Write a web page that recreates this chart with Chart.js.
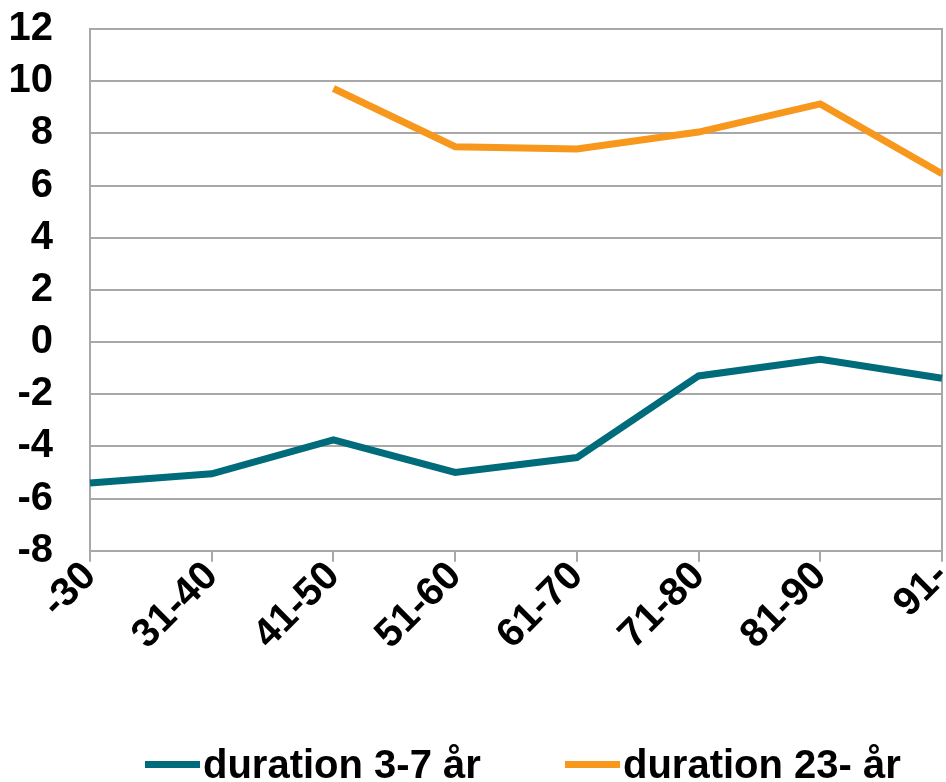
<!DOCTYPE html>
<html>
<head>
<meta charset="utf-8">
<script src="https://cdn.jsdelivr.net/npm/chart.js@4.4.1/dist/chart.umd.min.js"></script>
<style>
  html, body { margin: 0; padding: 0; background: #ffffff; }
  #wrap { position: relative; width: 946px; height: 782px; overflow: hidden; }
  #chart { position: absolute; left: 0; top: 0; }
  #legend { position: absolute; left: 0; top: 0; width: 946px; height: 782px; pointer-events: none;
            font-family: "Liberation Sans", Arial, sans-serif; font-weight: bold; font-size: 40px; color: #000; }
  .item { position: absolute; top: 740px; display: flex; align-items: center; white-space: nowrap; line-height: 48px; }
  .swatch { display: inline-block; width: 55px; height: 7px; margin-right: 3px; }
</style>
</head>
<body>
<div id="wrap">
  <canvas id="chart" width="946" height="782"></canvas>
  <div id="legend"></div>
</div>
<script>
// Age groups along the x axis
const ageGroups = ['-30', '31-40', '41-50', '51-60', '61-70', '71-80', '81-90', '91-'];

// Series values per age group (null = no value)
const duration3to7 = [-5.4, -5.05, -3.75, -5.0, -4.43, -1.3, -0.66, -1.39];
const duration23plus = [null, null, 9.72, 7.49, 7.4, 8.05, 9.13, 6.45];

const seriesNames = ['duration 3-7 år', 'duration 23- år'];
const seriesColors = ['#006b7a', '#f7981d'];

// Value axis range
const yMin = -8;
const yMax = 12;
const yStep = 2;

const gridColor = '#a8a8a8';
const fontSpec = { family: '"Liberation Sans", Arial, sans-serif', size: 40, weight: 'bold' };

const ctx = document.getElementById('chart').getContext('2d');

const chart = new Chart(ctx, {
  type: 'line',
  data: {
    labels: ageGroups,
    datasets: [
      {
        label: seriesNames[0],
        data: duration3to7,
        borderColor: seriesColors[0],
        backgroundColor: seriesColors[0],
        borderWidth: 7,
        pointRadius: 0,
        tension: 0,
        spanGaps: false,
        yAxisID: 'y'
      },
      {
        label: seriesNames[1],
        data: duration23plus,
        borderColor: seriesColors[1],
        backgroundColor: seriesColors[1],
        borderWidth: 7,
        pointRadius: 0,
        tension: 0,
        spanGaps: false,
        yAxisID: 'y'
      }
    ]
  },
  options: {
    responsive: false,
    animation: false,
    layout: { padding: { top: 29, right: 0, bottom: 132, left: 0 } },
    plugins: {
      legend: { display: false },
      tooltip: { enabled: false }
    },
    scales: {
      x: {
        offset: false,
        grid: {
          drawOnChartArea: false,
          drawTicks: true,
          tickLength: 11,
          color: gridColor,
          lineWidth: 2
        },
        border: { display: true, color: gridColor, width: 2 },
        ticks: {
          color: '#000',
          font: fontSpec,
          minRotation: 45,
          maxRotation: 45,
          autoSkip: false,
          padding: -9
        },
        afterFit(scale) {
          scale.paddingRight = 4;
          scale.paddingLeft = 0;
          scale.paddingTop = 0;
          scale.paddingBottom = 0;
        }
      },
      y: {
        min: yMin,
        max: yMax,
        ticks: {
          stepSize: yStep,
          autoSkip: false,
          color: '#000',
          font: fontSpec,
          padding: 37
        },
        grid: {
          color: gridColor,
          lineWidth: 2,
          drawTicks: false
        },
        border: { display: true, color: gridColor, width: 2 },
        afterFit(scale) {
          scale.width = 90;
          scale.paddingTop = 0;
          scale.paddingBottom = 0;
        }
      },
      yRight: {
        position: 'right',
        min: yMin,
        max: yMax,
        ticks: { display: false },
        grid: { drawOnChartArea: false, drawTicks: false },
        border: { display: true, color: gridColor, width: 2 },
        afterFit(scale) {
          scale.width = 2;
          scale.paddingTop = 0;
          scale.paddingBottom = 0;
        }
      }
    }
  }
});

// Legend below the chart, built from the dataset names and colours
const legendEl = document.getElementById('legend');
const legendLeft = [145, 565];
chart.data.datasets.forEach((ds, i) => {
  const item = document.createElement('div');
  item.className = 'item';
  item.style.left = legendLeft[i] + 'px';
  const sw = document.createElement('span');
  sw.className = 'swatch';
  sw.style.background = ds.borderColor;
  const txt = document.createElement('span');
  txt.textContent = ds.label;
  item.appendChild(sw);
  item.appendChild(txt);
  legendEl.appendChild(item);
});
</script>
</body>
</html>
